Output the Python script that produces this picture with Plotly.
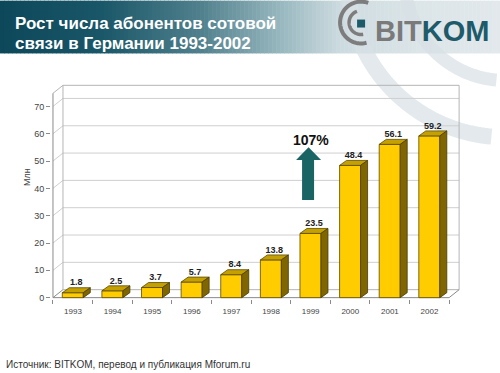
import math
import plotly.graph_objects as go

# ---- data ----
years = ["1993", "1994", "1995", "1996", "1997", "1998", "1999", "2000", "2001", "2002"]
subscribers = [1.8, 2.5, 3.7, 5.7, 8.4, 13.8, 23.5, 48.4, 56.1, 59.2]
value_labels = ["1.8", "2.5", "3.7", "5.7", "8.4", "13.8", "23.5", "48.4", "56.1", "59.2"]
y_ticks = [0, 10, 20, 30, 40, 50, 60, 70]
growth_label = "107%"

FW, FH = 500, 373
FONT = "Liberation Sans, Arial, sans-serif"

# ---- geometry (pixels of the 500x373 canvas) ----
ppx = 39.6          # pixels per category
ppy = 2.741         # pixels per million
x0px, y0px = 53, 298  # front origin (x=-0.5, y=0)
xr = [-0.55, 9.8]
yr = [-0.5, 78.2]
L = x0px - (-0.5 - xr[0]) * ppx
R = L + (xr[1] - xr[0]) * ppx
T = y0px - yr[1] * ppy
B = y0px - yr[0] * ppy
W, H = R - L, B - T

def px(x):
    return (x - L) / W

def py(y):
    return (B - y) / H

bar_w = 0.53
bdx, bdy = 7 / ppx, 5 / ppy       # bar depth
wdx, wdy = 10 / ppx, 8 / ppy      # wall depth
ytop_front = 74.8
ytop_back = ytop_front + wdy

idx = list(range(len(years)))
fig = go.Figure()

# front faces
fig.add_trace(go.Bar(x=idx, y=subscribers, width=bar_w,
                     marker=dict(color="#FFCC00", line=dict(color="#5c4a00", width=0.8)),
                     hoverinfo="skip", showlegend=False))

# top and side faces
tx, ty, sx, sy = [], [], [], []
for i, v in zip(idx, subscribers):
    a, b = i - bar_w / 2, i + bar_w / 2
    tx += [a, a + bdx, b + bdx, b, a, None]
    ty += [v, v + bdy, v + bdy, v, v, None]
    sx += [b, b, b + bdx, b + bdx, b, None]
    sy += [0, v, v + bdy, bdy, 0, None]
fig.add_trace(go.Scatter(x=tx, y=ty, mode="lines", fill="toself", fillcolor="#C4A000",
                         line=dict(color="#5c4a00", width=0.8), hoverinfo="skip", showlegend=False))
fig.add_trace(go.Scatter(x=sx, y=sy, mode="lines", fill="toself", fillcolor="#806600",
                         line=dict(color="#4a3c00", width=0.8), hoverinfo="skip", showlegend=False))

# value labels
fig.add_trace(go.Scatter(x=[i + bdx / 2 for i in idx], y=[v + bdy for v in subscribers],
                         mode="text", text=value_labels, textposition="top center",
                         textfont=dict(family=FONT, size=9, color="#222222", weight="bold"),
                         cliponaxis=False, hoverinfo="skip", showlegend=False))

shapes = []

# ---- header gradient banner ----
stops = [(0, (13, 72, 90)), (100, (25, 86, 103)), (200, (80, 128, 141)),
         (280, (152, 183, 191)), (340, (205, 219, 224)), (420, (220, 229, 232)), (500, (226, 232, 235))]

def grad(x):
    for (xa, ca), (xb, cb) in zip(stops[:-1], stops[1:]):
        if xa <= x <= xb:
            t = (x - xa) / (xb - xa)
            return "rgb(%d,%d,%d)" % tuple(round(ca[k] + (cb[k] - ca[k]) * t) for k in range(3))
    return "rgb(226,232,235)"

step = 4
for xs in range(0, FW, step):
    shapes.append(dict(type="rect", xref="paper", yref="paper", layer="below",
                       x0=px(xs), x1=px(xs + step + 0.5), y0=py(53), y1=py(0),
                       fillcolor=grad(xs + step / 2), line=dict(width=0)))

# background swirl arcs
def arc_path(cx, cy, r, a0, a1, n=60):
    pts = []
    for k in range(n + 1):
        a = math.radians(a0 + (a1 - a0) * k / n)
        pts.append((px(cx + r * math.cos(a)), py(cy + r * math.sin(a))))
    return "M " + " L ".join("%.5f,%.5f" % p for p in pts)

for r, wdt in [(157, 16), (100, 13)]:
    shapes.append(dict(type="path", xref="paper", yref="paper", layer="below",
                       path=arc_path(505, -20, r, 95, 175),
                       line=dict(color="rgba(215,224,229,0.7)", width=wdt)))

# logo arcs and square
shapes.append(dict(type="path", xref="paper", yref="paper",
                   path=arc_path(361, 22, 21, 75, 290), line=dict(color="#7d7d7d", width=4)))
shapes.append(dict(type="path", xref="paper", yref="paper",
                   path=arc_path(361, 22, 12, 80, 250), line=dict(color="#7d7d7d", width=3.5)))
shapes.append(dict(type="rect", xref="paper", yref="paper",
                   x0=px(357), x1=px(365), y0=py(27), y1=py(19),
                   fillcolor="#1d5a6a", line=dict(width=0)))

# ---- 3D wall / floor ----
grid_c = "#cfcfcf"
axis_c = "#8a8a8a"
def seg(xa, ya, xb, yb, color, width=1):
    shapes.append(dict(type="line", xref="x", yref="y", layer="below",
                       x0=xa, y0=ya, x1=xb, y1=yb, line=dict(color=color, width=width)))

for v in y_ticks[1:]:
    seg(-0.5 + wdx, v + wdy, 9.5 + wdx, v + wdy, grid_c)
    seg(-0.5, v, -0.5 + wdx, v + wdy, grid_c)
seg(-0.5 + wdx, wdy, 9.5 + wdx, wdy, "#b5b5b5")          # floor back edge
seg(-0.5 + wdx, wdy, -0.5 + wdx, ytop_back, "#b5b5b5")   # wall left
seg(-0.5 + wdx, ytop_back, 9.5 + wdx, ytop_back, "#b5b5b5")  # wall top
seg(9.5 + wdx, wdy, 9.5 + wdx, ytop_back, "#b5b5b5")     # wall right
seg(-0.5, ytop_front, -0.5 + wdx, ytop_back, "#b5b5b5")   # top diagonal
seg(-0.5, 0, -0.5 + wdx, wdy, axis_c)                     # floor left diagonal
seg(9.5, 0, 9.5 + wdx, wdy, axis_c)                       # floor right diagonal
seg(-0.5, 0, -0.5, ytop_front, axis_c)                    # front y axis line
seg(-0.5, 0, 9.5, 0, axis_c)                              # front floor edge

# ---- growth arrow ----
ax_pts = [(308.5, 147), (321, 160), (314, 160), (314, 200), (302, 200), (302, 160), (296, 160)]
shapes.append(dict(type="path", xref="paper", yref="paper",
                   path="M " + " L ".join("%.5f,%.5f" % (px(a), py(b)) for a, b in ax_pts) + " Z",
                   fillcolor="#1b6464", line=dict(width=0)))

title_font = dict(family=FONT, size=17, color="white", weight="bold")
annotations = [
    dict(xref="paper", yref="paper", x=px(13), y=py(23), xanchor="left", yanchor="middle",
         showarrow=False, text="Рост числа абонентов сотовой", font=title_font),
    dict(xref="paper", yref="paper", x=px(13), y=py(43), xanchor="left", yanchor="middle",
         showarrow=False, text="связи в Германии 1993-2002", font=title_font),
    dict(xref="paper", yref="paper", x=px(373), y=py(30), xanchor="left", yanchor="middle",
         showarrow=False,
         text="<span style='color:#7a7a7a'>BIT</span><span style='color:#1d5a6a'>KOM</span>",
         font=dict(family=FONT, size=29, weight="bold")),
    dict(xref="paper", yref="paper", x=px(311), y=py(140), xanchor="center", yanchor="middle",
         showarrow=False, text=growth_label,
         font=dict(family=FONT, size=14, color="#111111", weight="bold")),
    dict(xref="paper", yref="paper", x=px(27), y=py(177), xanchor="center", yanchor="middle",
         showarrow=False, text="Млн", textangle=-90,
         font=dict(family=FONT, size=9, color="#444444")),
    dict(xref="paper", yref="paper", x=px(4), y=py(365), xanchor="left", yanchor="middle",
         showarrow=False, text="Источник: BITKOM, перевод и публикация Mforum.ru",
         font=dict(family=FONT, size=10, color="#333333")),
]

fig.update_layout(
    width=FW, height=FH,
    margin=dict(l=L, r=FW - R, t=T, b=FH - B, pad=0),
    paper_bgcolor="white", plot_bgcolor="rgba(0,0,0,0)",
    showlegend=False, shapes=shapes, annotations=annotations,
    xaxis=dict(range=xr, showgrid=False, zeroline=False, showline=False,
               tickmode="array", tickvals=[i - 0.5 for i in idx] + [9.5],
               ticktext=years + [""], ticklabelshift=round(ppx / 2),
               ticks="outside", ticklen=4, tickcolor=axis_c,
               tickfont=dict(family=FONT, size=8, color="#444444")),
    yaxis=dict(range=yr, showgrid=False, zeroline=False, showline=False,
               tickmode="array", tickvals=y_ticks,
               ticks="outside", ticklen=4, tickcolor=axis_c,
               tickfont=dict(family=FONT, size=9, color="#444444")),
)

fig.write_html("out.html", config={"displayModeBar": False},
               post_script="document.body.style.margin='0';document.body.style.overflow='hidden';")
